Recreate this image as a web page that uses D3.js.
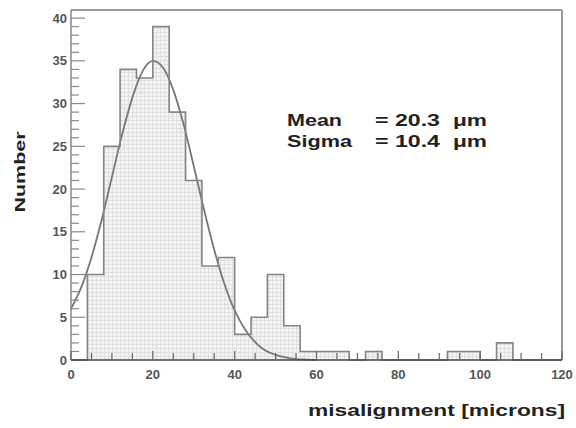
<!DOCTYPE html>
<html>
<head>
<meta charset="utf-8">
<script src="https://cdn.jsdelivr.net/npm/d3@7"></script>
<style>
  html, body { margin: 0; padding: 0; background: #ffffff; }
  svg { display: block; }
</style>
</head>
<body>
<svg id="chart" width="576" height="428"></svg>
<script>
// ---- data ----
const binStarts = [0,4,8,12,16,20,24,28,32,36,40,44,48,52,56,60,64,68,72,76,80,84,88,92,96,100,104,108,112,116];
const binWidth = 4;
const counts    = [0,10,25,34,33,39,29,21,11,12,3,5,10,4,1,1,1,0,1,0,0,0,0,1,1,0,2,0,0,0];
const fitX = [0,2.5,5,7.5,10,12.5,15,17.5,20,22.5,25,27.5,30,32.5,35,37.5,40,42.5,45,47.5,50,52.5,55,57.5,60];
const fitY = [6,8.5,12,16.4,21.4,26.4,30.7,33.8,35,34.2,31.6,27.6,22.7,17.6,12.9,8.9,5.8,3.6,2.1,1.1,0.6,0.3,0.1,0.05,0];
const xTickLabels = [0,20,40,60,80,100,120];
const yTickLabels = [0,5,10,15,20,25,30,35,40];
const statNames  = ["Mean", "Sigma"];
const statValues = ["= 20.3", "= 10.4"];
const statUnit = "\u03bcm";

(function(){
// ---- layout ----
const mL = 71, mR = 562, mT = 10, mB = 360;
const svg = d3.select("#chart");
const x = d3.scaleLinear().domain([0,120]).range([mL, mR]);
const y = d3.scaleLinear().domain([0,40.95]).range([mB, mT]);

// pattern for histogram fill (fine grid)
const defs = svg.append("defs");
const pat = defs.append("pattern").attr("id","hatch").attr("patternUnits","userSpaceOnUse")
  .attr("width",4).attr("height",4);
pat.append("rect").attr("width",4).attr("height",4).attr("fill","#f4f4f4");
pat.append("rect").attr("width",4).attr("height",1).attr("fill","#e0e0e0");
pat.append("rect").attr("width",1).attr("height",4).attr("fill","#e0e0e0");

// frame (top/right)
svg.append("line").attr("x1",mL).attr("x2",mR).attr("y1",mT).attr("y2",mT)
  .attr("stroke","#999").attr("stroke-width",2);
svg.append("line").attr("x1",mR).attr("x2",mR).attr("y1",mT).attr("y2",mB)
  .attr("stroke","#999").attr("stroke-width",2);

// histogram step path
const pts = [];
binStarts.forEach((s,i)=>{ pts.push([s, counts[i]]); });
pts.push([binStarts[binStarts.length-1]+binWidth, 0]);
const step = d3.line().x(d=>x(d[0])).y(d=>y(d[1])).curve(d3.curveStepAfter);
const area = d3.area().x(d=>x(d[0])).y0(y(0)).y1(d=>y(d[1])).curve(d3.curveStepAfter);
svg.append("path").datum(pts).attr("d",area).attr("fill","url(#hatch)");

// fit curve
const fitLine = d3.line().x((d,i)=>x(fitX[i])).y(d=>y(d)).curve(d3.curveMonotoneX);
svg.append("path").datum(fitY).attr("d",fitLine).attr("fill","none")
  .attr("stroke","#777").attr("stroke-width",1.8);

svg.append("path").datum(pts).attr("d",step).attr("fill","none")
  .attr("stroke","#858585").attr("stroke-width",1.6);

// y axis
svg.append("line").attr("x1",mL).attr("x2",mL).attr("y1",mT).attr("y2",mB)
  .attr("stroke","#888").attr("stroke-width",1.5);
const yMinor = d3.range(0,41,1);
svg.append("g").selectAll("line").data(yMinor).join("line")
  .attr("x1",mL).attr("x2",d=> mL + (d%5===0 ? 14 : 8))
  .attr("y1",d=>y(d)).attr("y2",d=>y(d))
  .attr("stroke","#888").attr("stroke-width",1.2);
svg.append("g").selectAll("text").data(yTickLabels).join("text")
  .attr("x",mL-4).attr("y",d=>y(d)+4.5).attr("text-anchor","end")
  .attr("font-family","Liberation Sans, Arial, sans-serif").attr("font-weight","bold")
  .attr("font-size",13).attr("fill","#555").text(d=>d);

// x axis
svg.append("line").attr("x1",mL).attr("x2",mR).attr("y1",mB).attr("y2",mB)
  .attr("stroke","#444").attr("stroke-width",1.6);
const xMinor = d3.range(0,121,5);
svg.append("g").selectAll("line").data(xMinor).join("line")
  .attr("x1",d=>x(d)).attr("x2",d=>x(d))
  .attr("y1",mB).attr("y2",d=> mB - (d%20===0 ? 9 : 7))
  .attr("stroke","#666").attr("stroke-width",1.2);
svg.append("g").selectAll("text").data(xTickLabels).join("text")
  .attr("x",d=>x(d)).attr("y",mB+19).attr("text-anchor","middle")
  .attr("font-family","Liberation Sans, Arial, sans-serif").attr("font-weight","bold")
  .attr("font-size",13).attr("fill","#555").text(d=>d);

// axis titles
svg.append("text").attr("x",565).attr("y",416).attr("text-anchor","end")
  .attr("font-family","Liberation Sans, Arial, sans-serif").attr("font-weight","bold")
  .attr("font-size",16).attr("fill","#222")
  .attr("textLength",257).attr("lengthAdjust","spacingAndGlyphs")
  .text("misalignment [microns]");
svg.append("text").attr("transform","translate(25,172) rotate(-90)").attr("text-anchor","middle")
  .attr("font-family","Liberation Sans, Arial, sans-serif").attr("font-weight","bold")
  .attr("font-size",15).attr("fill","#222")
  .attr("textLength",81).attr("lengthAdjust","spacingAndGlyphs")
  .text("Number");

// stats text
const statY = [126, 147];
const statFont = "Liberation Sans, Arial, sans-serif";
statNames.forEach((n,i)=>{
  svg.append("text").attr("x",287).attr("y",statY[i])
    .attr("font-family",statFont).attr("font-weight","bold").attr("font-size",16).attr("fill","#222")
    .attr("textLength", i===0 ? 55 : 65).attr("lengthAdjust","spacingAndGlyphs").text(n);
  svg.append("text").attr("x",375).attr("y",statY[i])
    .attr("font-family",statFont).attr("font-weight","bold").attr("font-size",16).attr("fill","#222")
    .attr("textLength",65).attr("lengthAdjust","spacingAndGlyphs").text(statValues[i]);
  svg.append("text").attr("x",453).attr("y",statY[i])
    .attr("font-family",statFont).attr("font-weight","bold").attr("font-size",16).attr("fill","#222")
    .attr("textLength",34).attr("lengthAdjust","spacingAndGlyphs").text(statUnit);
});
})();
</script>
</body>
</html>
